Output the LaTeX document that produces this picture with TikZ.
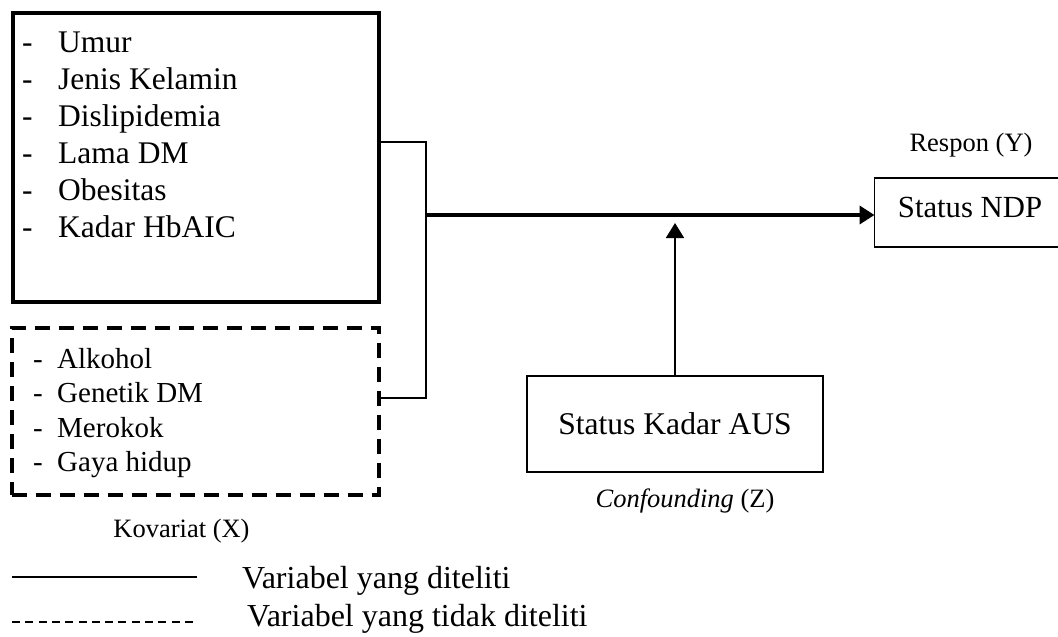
\documentclass[tikz,border=0pt]{standalone}
\usepackage{fontspec}
\setmainfont{Liberation Serif}
\usetikzlibrary{arrows.meta,positioning}

\begin{document}
\begin{tikzpicture}[
  x=1pt, y=-1pt,
  big/.style={font=\fontsize{31.5}{37}\selectfont},
  mid/.style={font=\fontsize{29}{35}\selectfont},
  small/.style={font=\fontsize{26.5}{32}\selectfont},
  legend/.style={font=\fontsize{32}{38}\selectfont},
  solidbox/.style={draw, line width=4pt, inner sep=0pt, outer sep=0pt},
  dashbox/.style={draw, line width=4pt, dash pattern=on 15pt off 9pt, inner sep=0pt, outer sep=0pt},
  thinbox/.style={draw, line width=1.8pt, inner sep=0pt, outer sep=0pt, big},
  item/.style={anchor=base west, inner sep=0pt},
  fl/.style={-{Triangle[length=15pt, width=18pt]}},
]
\useasboundingbox (0,0) rectangle (1058,637);

\node[solidbox, minimum width=366pt, minimum height=289pt, anchor=north west] (kov) at (13,13) {};
\foreach \t [count=\i] in {Umur, Jenis Kelamin, Dislipidemia, Lama DM, Obesitas, Kadar HbAIC} {
  \node[item, big] (dk\i) at (22, 15+37*\i) {-};
  \node[item, big] (k\i) at (58, 15+37*\i) {\t};
}

\node[dashbox, minimum width=367.5pt, minimum height=167pt, anchor=north west] (tkov) at (11.5,327.5) {};
\foreach \t [count=\i] in {Alkohol, Genetik DM, Merokok, Gaya hidup} {
  \node[item, mid] (dt\i) at (33, 333.5+34.5*\i) {-};
  \node[item, mid] (t\i) at (57, 333.5+34.5*\i) {\t};
}
\node[small, anchor=base] (kovlbl) at (181.5,537) {Kovariat (X)};

\node[thinbox, font=\fontsize{30.7}{37}\selectfont, minimum width=191pt, minimum height=69pt, text height=20pt, text depth=11pt] (ndp) at (970,212.5) {Status NDP};
\node[small, anchor=base] (resp) at (971,151) {Respon (Y)};

\node[thinbox, font=\fontsize{31.6}{37}\selectfont, minimum width=296pt, minimum height=96pt] (aus) at (675,424) {Status Kadar AUS};
\node[small, anchor=base] (conf) at (685,507) {\textit{Confounding} (Z)};

\coordinate (ja) at (426,142);
\coordinate (jb) at (426,398);
\coordinate (jm) at (426,215);
\coordinate (zt) at (675,223);
\draw[line width=1.8pt] (kov.east |- ja) -- (ja) -- (jb) -- (tkov.east |- jb);
\draw[fl, line width=4.5pt] (jm) -- (jm -| ndp.west);
\draw[fl, line width=1.8pt] (aus) -- (zt);

\coordinate (l1a) at (12,577);
\coordinate (l1b) at (197,577);
\coordinate (l2a) at (12,622);
\coordinate (l2b) at (198,622);
\draw[line width=1.5pt] (l1a) -- (l1b);
\draw[line width=1.3pt, dash pattern=on 8pt off 5.3pt] (l2a) -- (l2b);
\node[item, legend] (leg1) at (242,588) {Variabel yang diteliti};
\node[item, legend] (leg2) at (247,626) {Variabel yang tidak diteliti};
\end{tikzpicture}
\end{document}
